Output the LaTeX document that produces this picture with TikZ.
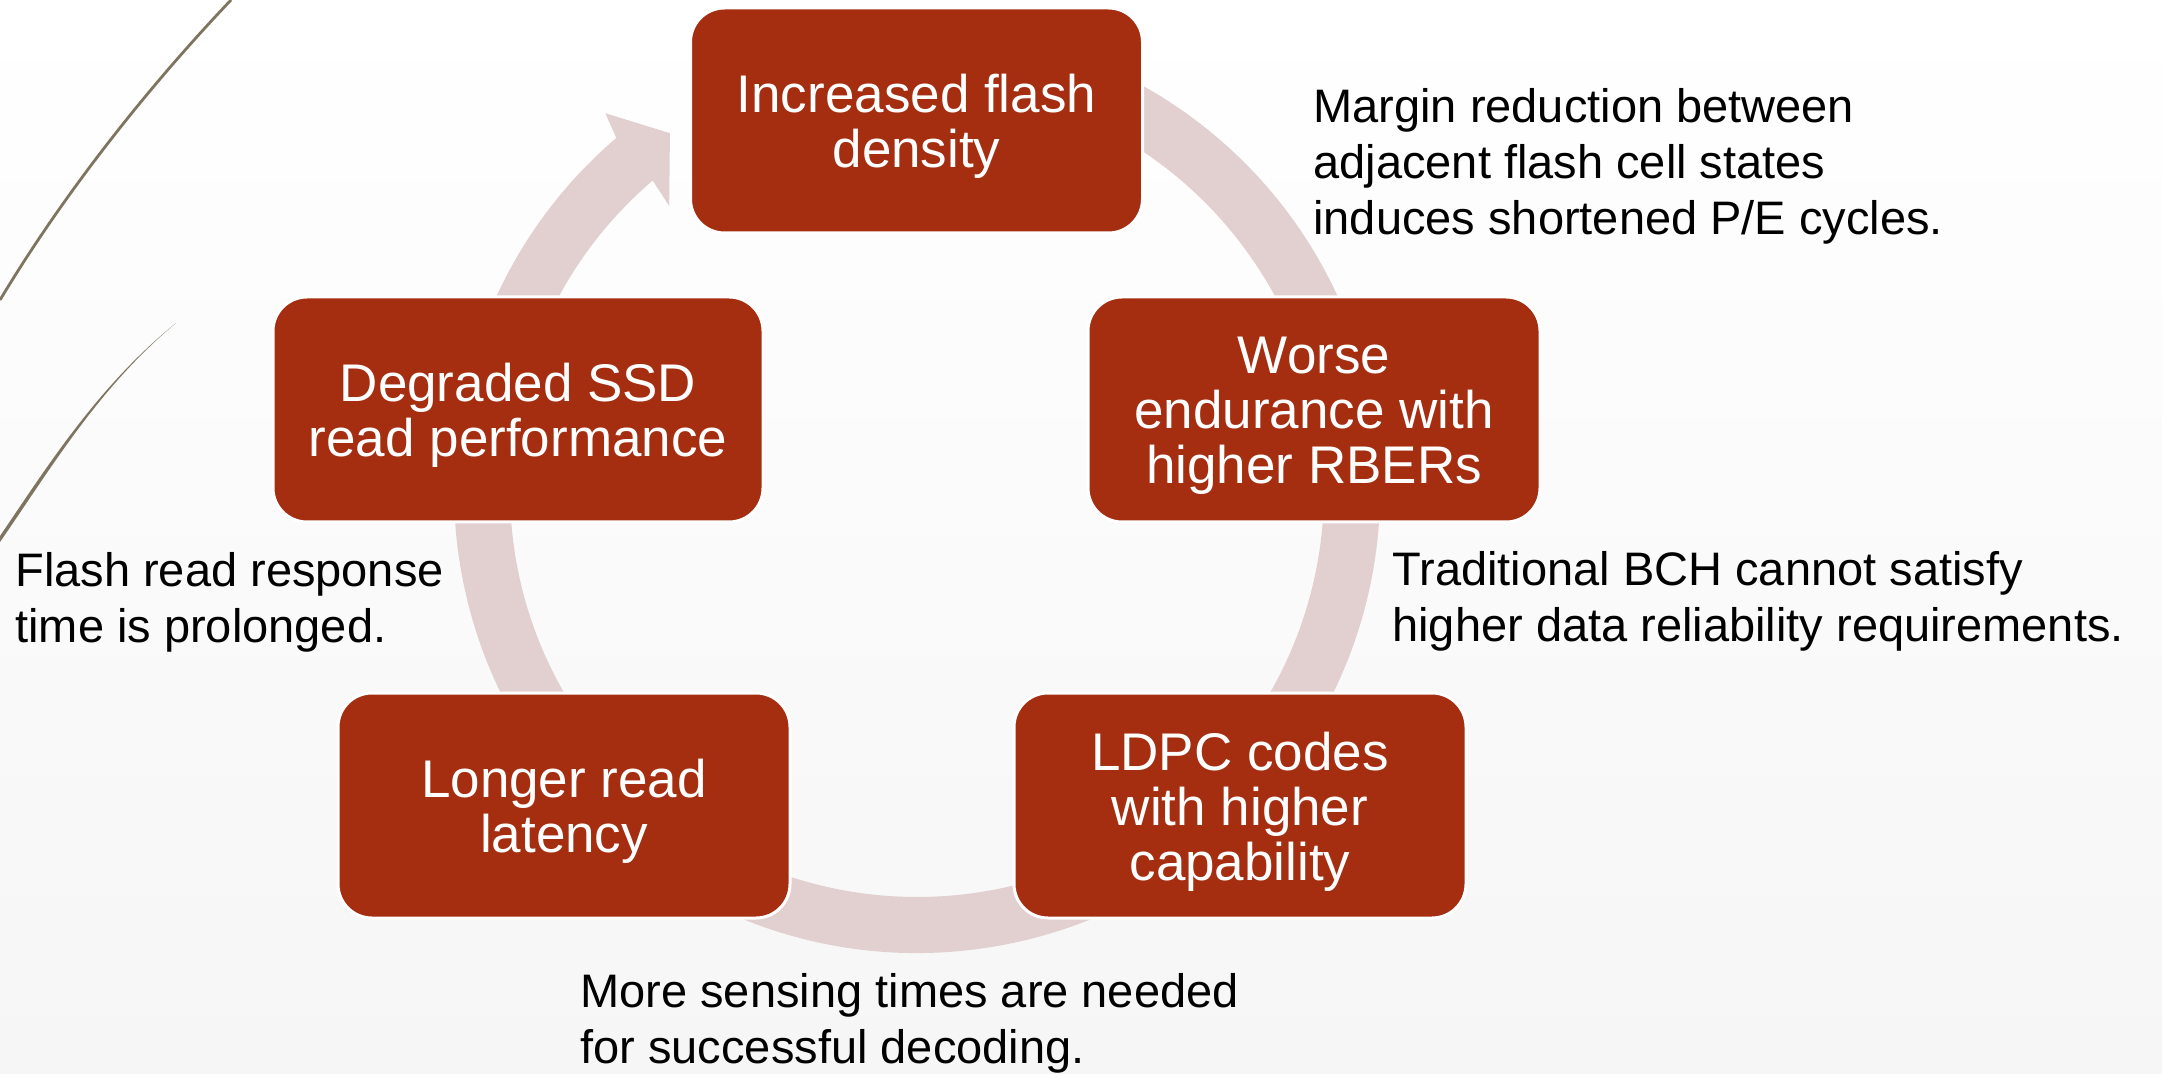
\documentclass[tikz,border=0pt]{standalone}
\usepackage{fontspec}
\setmainfont{Liberation Sans}
\usetikzlibrary{calc}
\definecolor{boxred}{RGB}{165,46,17}
\definecolor{ringpink}{RGB}{226,207,207}
\definecolor{swoosh}{RGB}{125,117,96}
\definecolor{bgbottom}{RGB}{246,246,246}
\newcommand{\firstline}{\rule{0pt}{25pt}}
\tikzset{
  cyclebox/.style={draw=white, line width=1.5pt, fill=boxred, rounded corners=17pt,
    text=white, align=center, minimum width=226pt, minimum height=112.5pt, inner sep=0pt,
    font=\fontsize{26.5pt}{27.5pt}\selectfont},
  note/.style={anchor=north west, align=left, inner sep=0pt,
    font=\fontsize{23.5pt}{28pt}\selectfont}
}

\begin{document}
\begin{tikzpicture}[x=0.5pt, y=0.5pt]
        % page
        \useasboundingbox (0,0) rectangle (2162,-1074);
        \shade[top color=white, bottom color=bgbottom] (0,0) rectangle (2162,-1074);
        % swooshes
        \draw[swoosh, line width=1.4pt] (0,-300) .. controls (57,-205) and (136,-100) .. (231,0);
        \fill[swoosh] (0,-542) .. controls (50,-470) and (98,-388) .. (176,-323)
            .. controls (97,-387) and (47,-467) .. (0,-536) -- cycle;
        % ring with arrow
        \coordinate (c) at (917,-490);
        \fill[ringpink] ($(c)+(100:463)$) arc[start angle=100, end angle=-229.5, radius=231.5pt]
            -- ($(c)+(-230.4:489)$) -- ($(c)+(-235.3:434)$) -- ($(c)+(-228.9:377)$)
            -- ($(c)+(-229.5:407)$) arc[start angle=-229.5, end angle=100, radius=203.5pt] -- cycle;
        % boxes
        \node[cyclebox] (density) at (916.5,-120.5) {\firstline Increased flash\\density};
        \node[cyclebox] (endurance) at (1314,-409.5) {\firstline Worse\\endurance with\\higher RBERs};
        \node[cyclebox] (ldpc) at (1240,-805.5) {\firstline LDPC codes\\with higher\\capability};
        \node[cyclebox] (latency) at (564,-805.5) {\firstline Longer read\\latency};
        \node[cyclebox, minimum width=245pt] (degraded) at (518,-409.5) {\firstline Degraded SSD\\read performance};
        % notes
        \node[note] (marginnote) at (1313,-88) {Margin reduction between\\adjacent flash cell states\\induces shortened P/E cycles.};
        \node[note] (bchnote) at (1392,-551) {Traditional BCH cannot satisfy\\higher data reliability requirements.};
        \node[note] (flashnote) at (15,-552) {Flash read response\\time is prolonged.};
        \node[note] (sensenote) at (580,-973) {More sensing times are needed\\for successful decoding.};
\end{tikzpicture}
\end{document}
